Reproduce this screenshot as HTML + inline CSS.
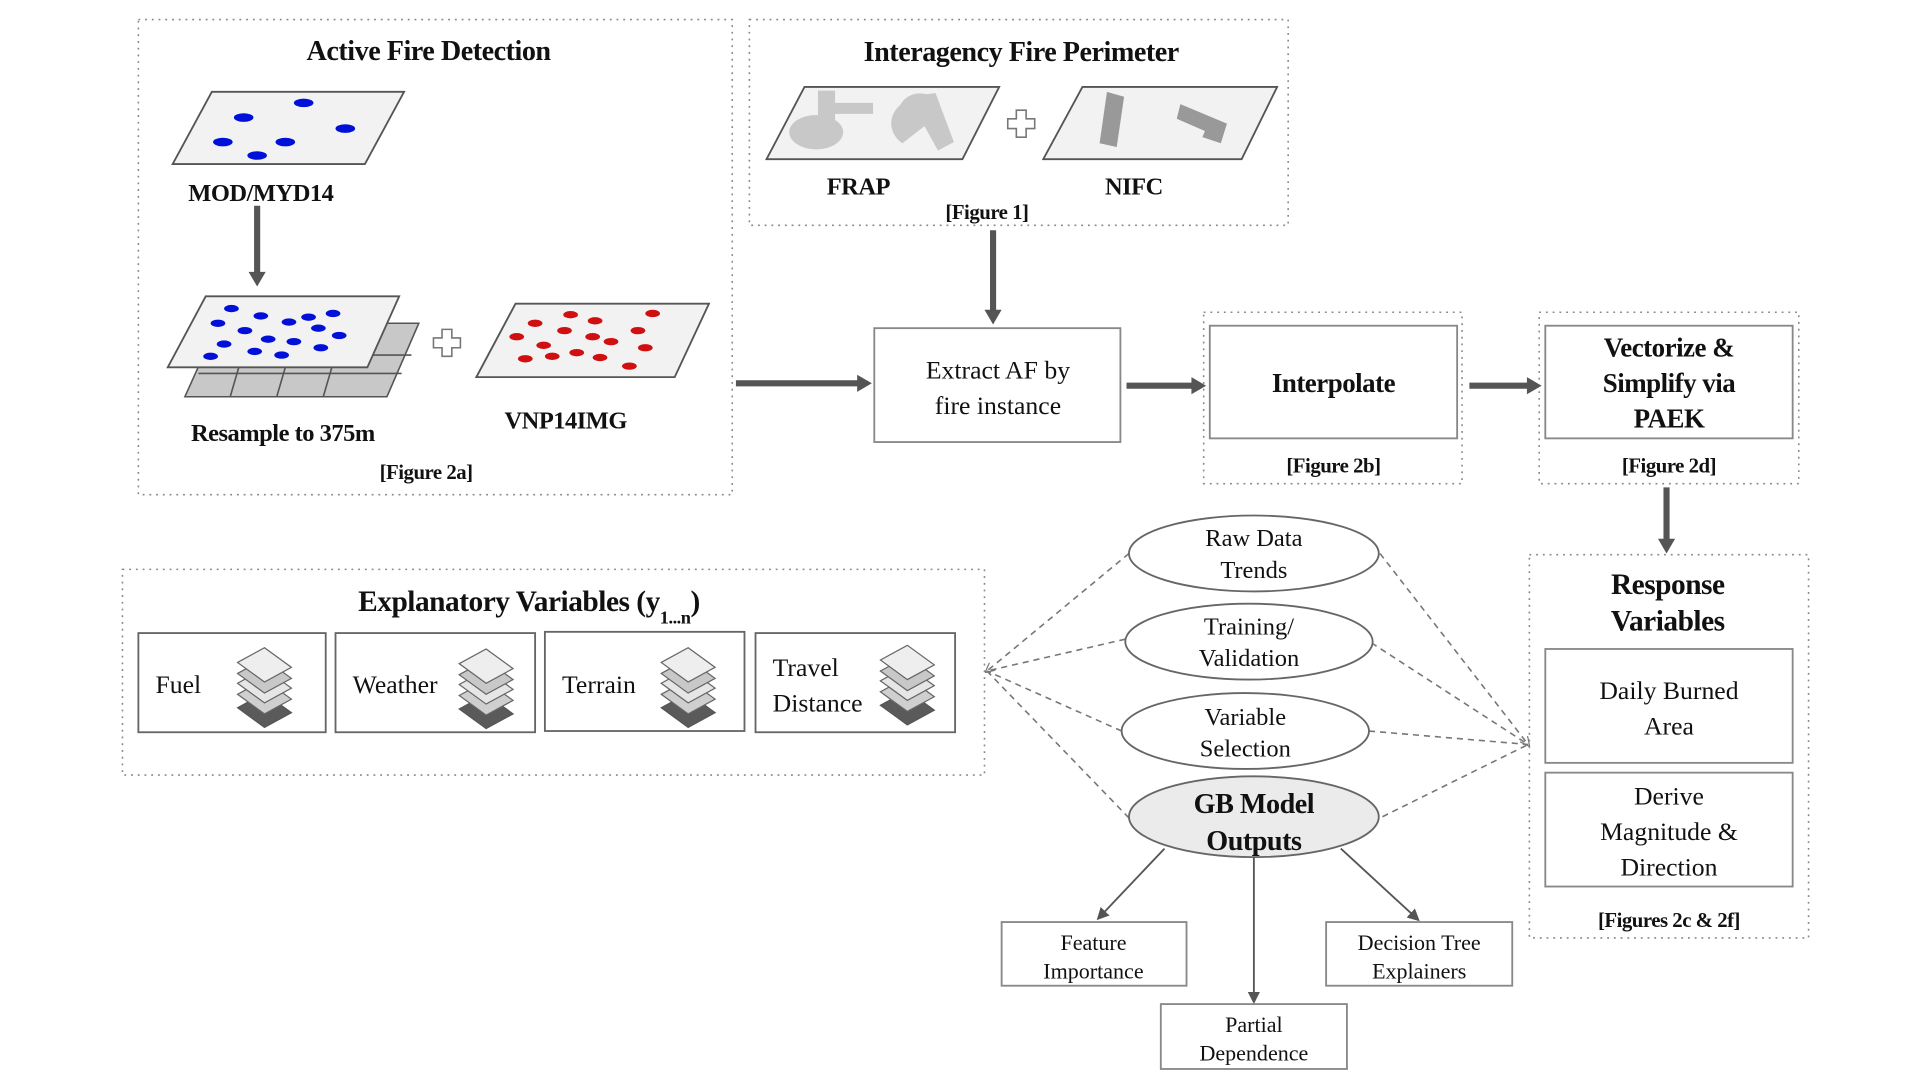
<!DOCTYPE html>
<html><head><meta charset="utf-8"><style>
html,body{margin:0;padding:0;background:#fff;}
svg{display:block;}
text{font-family:"Liberation Serif",serif;fill:#111;}
.b{font-weight:bold;letter-spacing:-0.4px;}
</style></head><body>
<svg width="1920" height="1080" viewBox="0 0 1568 882" preserveAspectRatio="none" xmlns="http://www.w3.org/2000/svg">
<defs>
<marker id="ah" markerWidth="10" markerHeight="10" refX="8" refY="5" orient="auto" markerUnits="userSpaceOnUse"><path d="M0,0 L10,5 L0,10 z" fill="#555"/></marker>
<marker id="ahs" markerWidth="8" markerHeight="8" refX="6" refY="4" orient="auto" markerUnits="userSpaceOnUse"><path d="M0,0 L8,4 L0,8" fill="none" stroke="#777" stroke-width="1"/></marker>
<g id="stk">
<path d="M0,40 L22,28 L44,44 L22,56 z" fill="#5a5a5a" stroke="#555"/>
<path d="M0,29 L22,17 L44,33 L22,45 z" fill="#cfcfcf" stroke="#666"/>
<path d="M0,20 L22,8 L44,24 L22,36 z" fill="#e6e6e6" stroke="#666"/>
<path d="M0,12 L22,0 L44,16 L22,28 z" fill="#c8c8c8" stroke="#666"/>
<path d="M0,3 L22,-9 L44,7 L22,19 z" fill="#eeeeee" stroke="#666"/>
</g>
<g id="plus"><path d="M-4,-11 h8 v7 h7 v8 h-7 v7 h-8 v-7 h-7 v-8 h7 z" fill="#fff" stroke="#777" stroke-width="1.3"/></g>
</defs>
<g fill="none" stroke="#888" stroke-width="1.3" stroke-dasharray="1.5,4">
<rect x="113" y="16" width="485" height="388"/>
<rect x="612" y="16" width="440" height="168"/>
<rect x="983" y="255" width="211" height="140"/>
<rect x="1257" y="255" width="212" height="140"/>
<rect x="100" y="465" width="704" height="168"/>
<rect x="1249" y="453" width="228" height="313"/>
</g>
<text x="350" y="49" font-size="23" class="b" text-anchor="middle">Active Fire Detection</text>
<path d="M173,75 L330,75 L298,134 L141,134 z" fill="#f2f2f2" stroke="#555" stroke-width="1.5"/>
<g fill="#0010d8"><ellipse cx="199" cy="96" rx="8" ry="3.5"/><ellipse cx="248" cy="84" rx="8" ry="3.5"/><ellipse cx="282" cy="105" rx="8" ry="3.5"/><ellipse cx="182" cy="116" rx="8" ry="3.5"/><ellipse cx="233" cy="116" rx="8" ry="3.5"/><ellipse cx="210" cy="127" rx="8" ry="3.5"/></g>
<text x="213" y="164" font-size="20" class="b" text-anchor="middle">MOD/MYD14</text>
<line x1="210" y1="168" x2="210" y2="225" stroke="#555" stroke-width="5"/>
<path d="M203,222 L217,222 L210,234 z" fill="#555"/>
<path d="M178,264 L342,264 L316,324 L151,324 z" fill="#c8c8c8" stroke="#555" stroke-width="1.3"/>
<g stroke="#555" stroke-width="1.3"><line x1="195" y1="300" x2="188" y2="324"/><line x1="233" y1="300" x2="226" y2="324"/><line x1="271" y1="300" x2="264" y2="324"/><line x1="162" y1="305" x2="328" y2="305"/><line x1="175" y1="290" x2="336" y2="290"/></g>
<path d="M168,242 L326,242 L300,300 L137,300 z" fill="#f2f2f2" stroke="#555" stroke-width="1.5"/>
<g fill="#0010d8"><ellipse cx="189" cy="252" rx="6" ry="3"/><ellipse cx="213" cy="258" rx="6" ry="3"/><ellipse cx="236" cy="263" rx="6" ry="3"/><ellipse cx="252" cy="259" rx="6" ry="3"/><ellipse cx="272" cy="256" rx="6" ry="3"/><ellipse cx="178" cy="264" rx="6" ry="3"/><ellipse cx="200" cy="270" rx="6" ry="3"/><ellipse cx="219" cy="277" rx="6" ry="3"/><ellipse cx="260" cy="268" rx="6" ry="3"/><ellipse cx="240" cy="279" rx="6" ry="3"/><ellipse cx="277" cy="274" rx="6" ry="3"/><ellipse cx="183" cy="281" rx="6" ry="3"/><ellipse cx="208" cy="287" rx="6" ry="3"/><ellipse cx="230" cy="290" rx="6" ry="3"/><ellipse cx="262" cy="284" rx="6" ry="3"/><ellipse cx="172" cy="291" rx="6" ry="3"/></g>
<use href="#plus" x="365" y="280"/>
<path d="M421,248 L579,248 L551,308 L389,308 z" fill="#f2f2f2" stroke="#555" stroke-width="1.5"/>
<g fill="#d01010"><ellipse cx="437" cy="264" rx="6" ry="3"/><ellipse cx="466" cy="257" rx="6" ry="3"/><ellipse cx="486" cy="262" rx="6" ry="3"/><ellipse cx="533" cy="256" rx="6" ry="3"/><ellipse cx="422" cy="275" rx="6" ry="3"/><ellipse cx="461" cy="270" rx="6" ry="3"/><ellipse cx="484" cy="275" rx="6" ry="3"/><ellipse cx="521" cy="270" rx="6" ry="3"/><ellipse cx="444" cy="282" rx="6" ry="3"/><ellipse cx="499" cy="279" rx="6" ry="3"/><ellipse cx="527" cy="284" rx="6" ry="3"/><ellipse cx="429" cy="293" rx="6" ry="3"/><ellipse cx="451" cy="291" rx="6" ry="3"/><ellipse cx="471" cy="288" rx="6" ry="3"/><ellipse cx="490" cy="292" rx="6" ry="3"/><ellipse cx="514" cy="299" rx="6" ry="3"/></g>
<text x="231" y="360" font-size="20" class="b" text-anchor="middle">Resample to 375m</text>
<text x="462" y="350" font-size="20" class="b" text-anchor="middle">VNP14IMG</text>
<text x="348" y="391" font-size="17" class="b" text-anchor="middle">[Figure 2a]</text>
<text x="834" y="50" font-size="23" class="b" text-anchor="middle">Interagency Fire Perimeter</text>
<path d="M657,71 L816,71 L786,130 L626,130 z" fill="#f2f2f2" stroke="#555" stroke-width="1.5"/>
<g fill="#c8c8c8"><path d="M668,74 h14 v10 h31 v9 h-31 v5 a22,14 0 1 1 -14,-4 z"/><path d="M735,86 a18,16 0 0 1 22,-9 l7,-1 l15,40 l-13,7 l-11,-20 l-18,14 a22,20 0 0 1 -2,-31z"/></g>
<use href="#plus" x="834" y="101"/>
<path d="M884,71 L1043,71 L1014,130 L852,130 z" fill="#f2f2f2" stroke="#555" stroke-width="1.5"/>
<g fill="#999"><path d="M904,75 l14,4 l-6,41 l-14,-3 z"/><path d="M964,85 l38,16 l-5,16 l-15,-5 l2,-5 l-23,-10 z"/></g>
<text x="701" y="159" font-size="20" class="b" text-anchor="middle">FRAP</text>
<text x="926" y="159" font-size="20" class="b" text-anchor="middle">NIFC</text>
<text x="806" y="179" font-size="17" class="b" text-anchor="middle">[Figure 1]</text>
<line x1="811" y1="188" x2="811" y2="256" stroke="#555" stroke-width="5"/>
<path d="M804,253 L818,253 L811,265 z" fill="#555"/>
<line x1="601" y1="313" x2="702" y2="313" stroke="#555" stroke-width="5"/><path d="M700,306 L712,313 L700,320 z" fill="#555"/>
<rect x="714" y="268" width="201" height="93" fill="#fff" stroke="#888" stroke-width="1.5"/>
<text x="815" y="309" font-size="21" text-anchor="middle">Extract AF by</text>
<text x="815" y="338" font-size="21" text-anchor="middle">fire instance</text>
<line x1="920" y1="315" x2="975" y2="315" stroke="#555" stroke-width="5"/><path d="M973,308 L985,315 L973,322 z" fill="#555"/>
<rect x="988" y="266" width="202" height="92" fill="#fff" stroke="#888" stroke-width="1.5"/>
<text x="1089" y="320" font-size="22" class="b" text-anchor="middle">Interpolate</text>
<text x="1089" y="386" font-size="17" class="b" text-anchor="middle">[Figure 2b]</text>
<line x1="1200" y1="315" x2="1249" y2="315" stroke="#555" stroke-width="5"/><path d="M1247,308 L1259,315 L1247,322 z" fill="#555"/>
<rect x="1262" y="266" width="202" height="92" fill="#fff" stroke="#888" stroke-width="1.5"/>
<text x="1363" y="291" font-size="22" class="b" text-anchor="middle">Vectorize &amp;</text>
<text x="1363" y="320" font-size="22" class="b" text-anchor="middle">Simplify via</text>
<text x="1363" y="349" font-size="22" class="b" text-anchor="middle">PAEK</text>
<text x="1363" y="386" font-size="17" class="b" text-anchor="middle">[Figure 2d]</text>
<line x1="1361" y1="398" x2="1361" y2="442" stroke="#555" stroke-width="5"/><path d="M1354,440 L1368,440 L1361,452 z" fill="#555"/>
<text x="1362" y="485" font-size="24" class="b" text-anchor="middle">Response</text>
<text x="1362" y="515" font-size="24" class="b" text-anchor="middle">Variables</text>
<rect x="1262" y="530" width="202" height="93" fill="#fff" stroke="#888" stroke-width="1.5"/>
<text x="1363" y="571" font-size="21" text-anchor="middle">Daily Burned</text>
<text x="1363" y="600" font-size="21" text-anchor="middle">Area</text>
<rect x="1262" y="631" width="202" height="93" fill="#fff" stroke="#888" stroke-width="1.5"/>
<text x="1363" y="657" font-size="21" text-anchor="middle">Derive</text>
<text x="1363" y="686" font-size="21" text-anchor="middle">Magnitude &amp;</text>
<text x="1363" y="715" font-size="21" text-anchor="middle">Direction</text>
<text x="1363" y="757" font-size="17" class="b" text-anchor="middle">[Figures 2c &amp; 2f]</text>
<text x="432" y="499" font-size="24" class="b" text-anchor="middle">Explanatory Variables (y<tspan font-size="15" dy="10">1...n</tspan><tspan dy="-10">)</tspan></text>
<g fill="#fff" stroke="#666" stroke-width="1.5">
<rect x="113" y="517" width="153" height="81"/><rect x="274" y="517" width="163" height="81"/><rect x="445" y="516" width="163" height="81"/><rect x="617" y="517" width="163" height="81"/>
</g>
<text x="127" y="566" font-size="21">Fuel</text>
<text x="288" y="566" font-size="21">Weather</text>
<text x="459" y="566" font-size="21">Terrain</text>
<text x="631" y="552" font-size="21">Travel</text>
<text x="631" y="581" font-size="21">Distance</text>
<use href="#stk" x="194" y="538"/>
<use href="#stk" x="375" y="539"/>
<use href="#stk" x="540" y="538"/>
<use href="#stk" x="719" y="536"/>
<g stroke="#777" stroke-width="1.3" stroke-dasharray="5,4" fill="none">
<line x1="922" y1="452" x2="806" y2="548" marker-end="url(#ahs)"/>
<line x1="919" y1="522" x2="806" y2="548"/>
<line x1="916" y1="597" x2="806" y2="548"/>
<line x1="922" y1="668" x2="806" y2="548"/>
<line x1="1127" y1="452" x2="1248" y2="608" marker-end="url(#ahs)"/>
<line x1="1120" y1="525" x2="1248" y2="608"/>
<line x1="1118" y1="597" x2="1248" y2="608"/>
<line x1="1129" y1="667" x2="1248" y2="608"/>
</g>
<g fill="#fff" stroke="#666" stroke-width="1.5">
<ellipse cx="1024" cy="452" rx="102" ry="31"/>
<ellipse cx="1020" cy="524" rx="101" ry="31"/>
<ellipse cx="1017" cy="597" rx="101" ry="31"/>
<ellipse cx="1024" cy="667" rx="102" ry="33" fill="#ebebeb"/>
</g>
<text x="1024" y="446" font-size="20" text-anchor="middle">Raw Data</text>
<text x="1024" y="472" font-size="20" text-anchor="middle">Trends</text>
<text x="1020" y="518" font-size="20" text-anchor="middle">Training/</text>
<text x="1020" y="544" font-size="20" text-anchor="middle">Validation</text>
<text x="1017" y="592" font-size="20" text-anchor="middle">Variable</text>
<text x="1017" y="618" font-size="20" text-anchor="middle">Selection</text>
<text x="1024" y="664" font-size="23" class="b" text-anchor="middle">GB Model</text>
<text x="1024" y="694" font-size="23" class="b" text-anchor="middle">Outputs</text>
<g stroke="#555" stroke-width="1.5">
<line x1="951" y1="693" x2="897" y2="750" marker-end="url(#ah)"/>
<line x1="1024" y1="700" x2="1024" y2="818" marker-end="url(#ah)"/>
<line x1="1095" y1="693" x2="1158" y2="751" marker-end="url(#ah)"/>
</g>
<g fill="#fff" stroke="#888" stroke-width="1.5">
<rect x="818" y="753" width="151" height="52"/><rect x="1083" y="753" width="152" height="52"/><rect x="948" y="820" width="152" height="53"/>
</g>
<text x="893" y="776" font-size="18" text-anchor="middle">Feature</text>
<text x="893" y="799" font-size="18" text-anchor="middle">Importance</text>
<text x="1159" y="776" font-size="18" text-anchor="middle">Decision Tree</text>
<text x="1159" y="799" font-size="18" text-anchor="middle">Explainers</text>
<text x="1024" y="843" font-size="18" text-anchor="middle">Partial</text>
<text x="1024" y="866" font-size="18" text-anchor="middle">Dependence</text>
</svg>
</body></html>
